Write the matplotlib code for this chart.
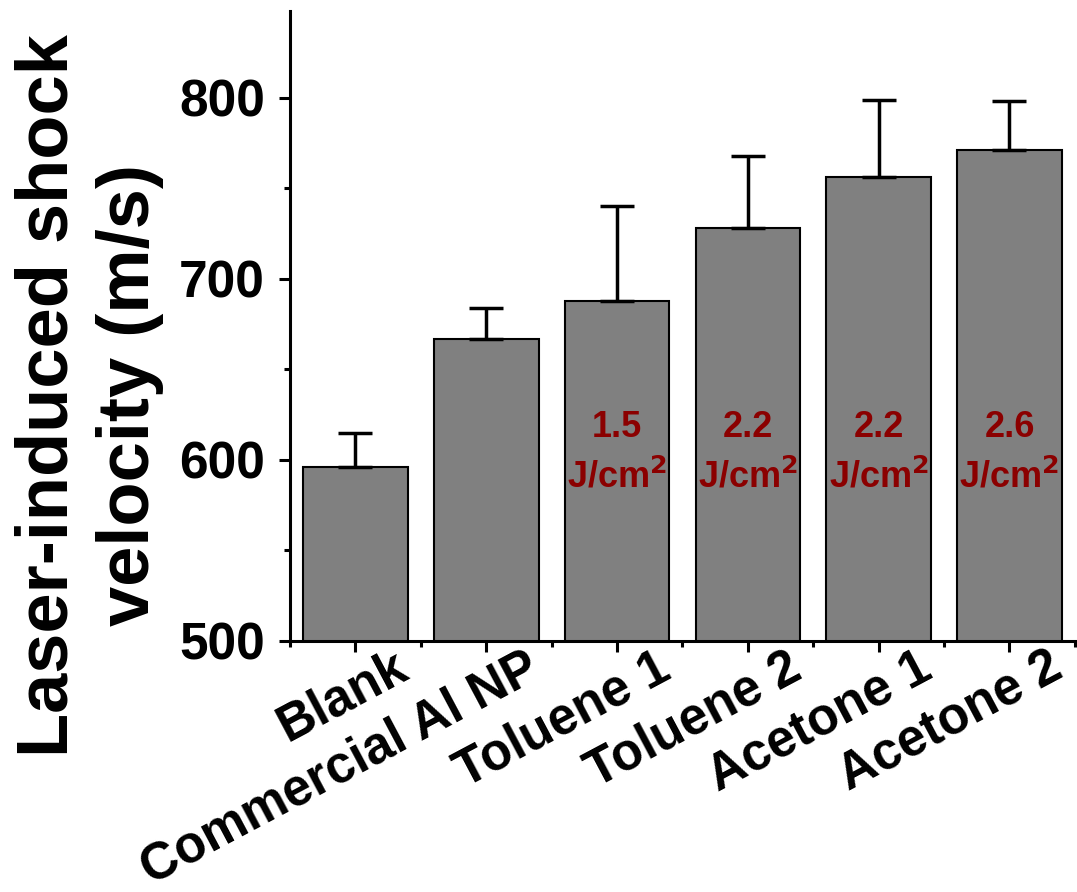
import matplotlib
matplotlib.use("Agg")
import matplotlib.pyplot as plt
import matplotlib.transforms as mtransforms
from matplotlib.ticker import MultipleLocator, FixedLocator

# Shock velocity per sample (m/s) and upper error bars
categories = ["Blank", "Commercial Al NP", "Toluene 1", "Toluene 2", "Acetone 1", "Acetone 2"]
velocity = [596, 667, 688, 728, 756, 771]
error_up = [19, 17, 52, 40, 43, 27]
fluence_labels = ["", "", "1.5", "2.2", "2.2", "2.6"]

plt.rcParams["font.family"] = ["Liberation Sans", "DejaVu Sans"]
plt.rcParams["font.weight"] = "bold"

fig = plt.figure(figsize=(10.77, 8.92), dpi=100)
ax = fig.add_axes([0.2693, 0.2817, 0.7287, 0.706])

x = list(range(len(categories)))
ax.bar(x, velocity, width=0.8, color="#808080", edgecolor="black", linewidth=1.5, zorder=2)
ax.errorbar(x, velocity, yerr=[[0] * len(x), error_up], fmt="none", ecolor="black",
            elinewidth=2.5, capsize=12, capthick=2.5, zorder=3)

for xi, v, lab in zip(x, velocity, fluence_labels):
    if lab:
        ax.text(xi, 618, lab, ha="center", va="center", fontsize=26,
                color="#8B0000", fontweight="bold", zorder=4)
        ax.text(xi, 590, r"J/cm$^{\mathbf{2}}$", ha="center", va="center", fontsize=26,
                color="#8B0000", fontweight="bold", zorder=4)

ax.set_xlim(-0.5, 5.5)
ax.set_ylim(500, 848)
ax.yaxis.set_major_locator(MultipleLocator(100))
ax.yaxis.set_minor_locator(MultipleLocator(50))
ax.set_xticks(x)
ax.xaxis.set_minor_locator(FixedLocator([i - 0.5 for i in range(len(x) + 1)]))

for s in ["top", "right"]:
    ax.spines[s].set_visible(False)
for s in ["left", "bottom"]:
    ax.spines[s].set_linewidth(2.2)

ax.tick_params(axis="both", which="major", direction="out", length=8, width=2.2,
               labelsize=37, pad=10)
ax.tick_params(axis="both", which="minor", direction="out", length=4, width=2.2)
ax.tick_params(axis="x", which="major", labelsize=37, pad=0)

ax.set_xticklabels(categories, rotation=28, ha="right", rotation_mode="anchor",
                   fontweight="bold")
offset = mtransforms.ScaledTranslation(0.38, 0.09, fig.dpi_scale_trans)
for lbl in ax.get_xticklabels():
    lbl.set_transform(lbl.get_transform() + offset)
for lbl in ax.get_yticklabels():
    lbl.set_fontweight("bold")

fig.text(0.083, 0.557, "Laser-induced shock\nvelocity (m/s)", rotation=90,
         ha="center", va="center", fontsize=52, fontweight="bold",
         multialignment="center", linespacing=1.25)

fig.savefig("out.png", dpi=100)
